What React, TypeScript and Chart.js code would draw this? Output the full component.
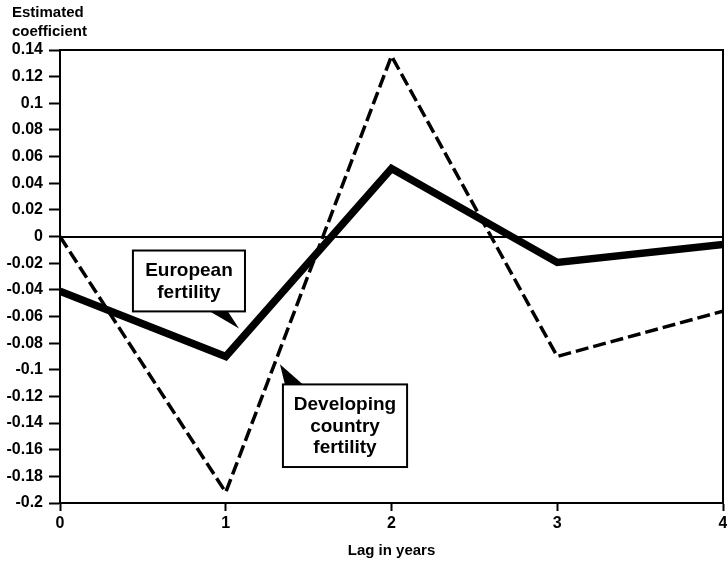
import React, { useEffect, useRef } from "react";
import { Chart, registerables } from "chart.js";

Chart.register(...registerables);

const xValues = [0, 1, 2, 3, 4];
const europeanValues = [-0.041, -0.09, 0.051, -0.0195, -0.006];
const developingValues = [0, -0.192, 0.1355, -0.09, -0.056];
const yTickValues = [
  -0.2, -0.18, -0.16, -0.14, -0.12, -0.1, -0.08, -0.06, -0.04, -0.02, 0,
  0.02, 0.04, 0.06, 0.08, 0.1, 0.12, 0.14,
];
const yTitleLines = ["Estimated", "coefficient"];
const xTitle = "Lag in years";
const europeanLabel = ["European", "fertility"];
const developingLabel = ["Developing", "country", "fertility"];

const FONT = '"Liberation Sans", Arial, Helvetica, sans-serif';

type Callout = {
  lines: string[];
  box: [number, number, number, number]; // x0, x1, yTop, yBottom (data units)
  tail: [number, number, number, number, number]; // baseX0, baseX1, tipX, tipY, baseY
};

const callouts: Callout[] = [
  {
    lines: europeanLabel,
    box: [0.44, 1.116, -0.0105, -0.0562],
    tail: [0.905, 1.013, 1.08, -0.069, -0.0562],
  },
  {
    lines: developingLabel,
    box: [1.345, 2.094, -0.111, -0.173],
    tail: [1.357, 1.466, 1.327, -0.0959, -0.111],
  },
];

const decorPlugin = {
  id: "decor",
  beforeDatasetsDraw(chart: any) {
    const { ctx, chartArea, scales } = chart;
    const { left, right, top, bottom } = chartArea;
    ctx.save();
    ctx.strokeStyle = "#000";
    ctx.lineWidth = 2;
    const y0 = Math.round(scales.y.getPixelForValue(0));
    ctx.beginPath();
    ctx.moveTo(left, y0);
    ctx.lineTo(right, y0);
    ctx.stroke();
    ctx.beginPath();
    ctx.moveTo(left, top);
    ctx.lineTo(right, top);
    ctx.lineTo(right, bottom);
    ctx.stroke();
    ctx.restore();
  },
  afterDatasetsDraw(chart: any) {
    const { ctx, scales } = chart;
    const xs = scales.x;
    const ys = scales.y;
    ctx.save();
    for (const c of callouts) {
      const bx0 = xs.getPixelForValue(c.box[0]);
      const bx1 = xs.getPixelForValue(c.box[1]);
      const by0 = ys.getPixelForValue(c.box[2]);
      const by1 = ys.getPixelForValue(c.box[3]);
      ctx.fillStyle = "#fff";
      ctx.strokeStyle = "#000";
      ctx.lineWidth = 2;
      ctx.fillRect(bx0, by0, bx1 - bx0, by1 - by0);
      ctx.strokeRect(bx0, by0, bx1 - bx0, by1 - by0);
      const tx0 = xs.getPixelForValue(c.tail[0]);
      const tx1 = xs.getPixelForValue(c.tail[1]);
      const tipX = xs.getPixelForValue(c.tail[2]);
      const tipY = ys.getPixelForValue(c.tail[3]);
      const baseY = ys.getPixelForValue(c.tail[4]);
      ctx.beginPath();
      ctx.moveTo(tx0, baseY);
      ctx.lineTo(tipX, tipY);
      ctx.lineTo(tx1, baseY);
      ctx.closePath();
      ctx.fillStyle = "#000";
      ctx.fill();
      ctx.fillStyle = "#000";
      ctx.font = `bold 19px ${FONT}`;
      ctx.textAlign = "center";
      ctx.textBaseline = "middle";
      const cx = (bx0 + bx1) / 2;
      const cy = (by0 + by1) / 2 + 1;
      const lh = 21.5;
      const n = c.lines.length;
      c.lines.forEach((t, i) => {
        ctx.fillText(t, cx, cy + (i - (n - 1) / 2) * lh);
      });
    }
    ctx.restore();
  },
  afterDraw(chart: any) {
    const { ctx } = chart;
    ctx.save();
    ctx.fillStyle = "#000";
    ctx.font = `bold 15px ${FONT}`;
    ctx.textAlign = "left";
    ctx.textBaseline = "middle";
    ctx.fillText(yTitleLines[0], 12, 13);
    ctx.fillText(yTitleLines[1], 12, 32);
    ctx.textAlign = "center";
    const area = chart.chartArea;
    ctx.fillText(xTitle, (area.left + area.right) / 2, 551);
    ctx.restore();
  },
};

export default function App() {
  const canvasRef = useRef<HTMLCanvasElement | null>(null);

  useEffect(() => {
    const canvas = canvasRef.current;
    if (!canvas) return;
    Chart.defaults.font.family = FONT;
    const chart = new Chart(canvas, {
      type: "line",
      data: {
        datasets: [
          {
            label: "European fertility",
            data: xValues.map((x, i) => ({ x, y: europeanValues[i] })),
            borderColor: "#000",
            borderWidth: 7.5,
            pointRadius: 0,
            fill: false,
            tension: 0,
            borderJoinStyle: "miter",
            borderCapStyle: "butt",
          },
          {
            label: "Developing country fertility",
            data: xValues.map((x, i) => ({ x, y: developingValues[i] })),
            borderColor: "#000",
            borderWidth: 3.5,
            borderDash: [13, 5],
            pointRadius: 0,
            fill: false,
            tension: 0,
            borderJoinStyle: "miter",
            borderCapStyle: "butt",
          },
        ],
      },
      options: {
        responsive: false,
        animation: false,
        devicePixelRatio: 1,
        layout: { padding: { top: 50, right: 4, left: 0, bottom: 0 } },
        plugins: {
          legend: { display: false },
          tooltip: { enabled: false },
        },
        scales: {
          x: {
            type: "linear",
            min: 0,
            max: 4,
            afterBuildTicks: (s: any) => {
              s.ticks = xValues.map((v) => ({ value: v }));
            },
            afterFit: (s: any) => {
              s.height = 59;
              s.paddingLeft = 0;
              s.paddingRight = 0;
            },
            ticks: {
              color: "#000",
              font: { size: 16, weight: "bold", family: FONT },
              padding: 3,
              maxRotation: 0,
              autoSkip: false,
              callback: (v: any) => String(v),
            },
            grid: {
              drawOnChartArea: false,
              drawTicks: true,
              tickLength: 8,
              tickColor: "#000",
              tickWidth: 2,
              color: "#000",
            },
            border: { display: true, color: "#000", width: 2 },
          },
          y: {
            type: "linear",
            min: -0.2,
            max: 0.14,
            afterBuildTicks: (s: any) => {
              s.ticks = yTickValues.map((v) => ({ value: v }));
            },
            afterFit: (s: any) => {
              s.width = 60;
              s.paddingTop = 0;
              s.paddingBottom = 0;
            },
            ticks: {
              color: "#000",
              font: { size: 16, weight: "bold", family: FONT },
              padding: 6,
              autoSkip: false,
              callback: (v: any) => {
                const n = Number(Number(v).toFixed(2));
                return n === 0 ? "0" : String(n);
              },
            },
            grid: {
              drawOnChartArea: false,
              drawTicks: true,
              tickLength: 11,
              tickColor: "#000",
              tickWidth: 2,
              color: "#000",
            },
            border: { display: true, color: "#000", width: 2 },
          },
        },
      },
      plugins: [decorPlugin],
    } as any);
    return () => chart.destroy();
  }, []);

  return (
    <div style={{ position: "fixed", left: 0, top: 0, width: 727, height: 562, background: "#fff" }}>
      <canvas ref={canvasRef} width={727} height={562} style={{ display: "block" }} />
    </div>
  );
}
